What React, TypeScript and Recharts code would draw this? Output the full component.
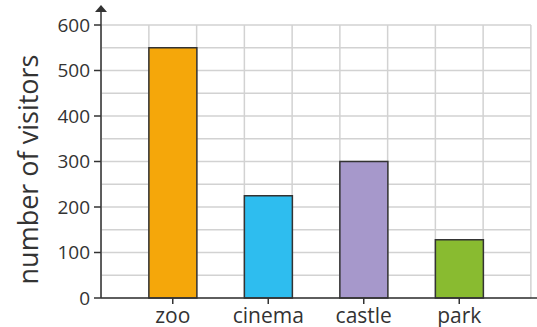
import React from 'react';
import { BarChart, Bar, XAxis, YAxis, CartesianGrid, Cell } from 'recharts';

const categories = ['zoo', 'cinema', 'castle', 'park'];
const visitors = [550, 225, 300, 128];
const barColors = ['#F5A70A', '#2EBDEF', '#A698CB', '#89BB30'];
const yTicks = [0, 100, 200, 300, 400, 500, 600];
const gridValues = [0, 50, 100, 150, 200, 250, 300, 350, 400, 450, 500, 550, 600];
const yMax = 600;

const data = categories.map((name, i) => ({ name, visitors: visitors[i] }));

const PAD_L = 24;
const PAD_R = 30;
const FONT = '"Open Sans", "Noto Sans", sans-serif';
const INK = '#333333';
const GRID = '#D2D2D2';

const verticalGen = ({ offset }: any) => {
  const bw = (offset.width - PAD_L - PAD_R) / categories.length;
  const start = offset.left + PAD_L - bw / 4;
  const pts: number[] = [];
  for (let k = 0; k <= categories.length * 2 + 1; k++) pts.push(start + (k * bw) / 2);
  return pts;
};

const horizontalGen = ({ offset }: any) =>
  gridValues.map((v) => offset.top + offset.height * (1 - v / yMax));

const HLine = (props: any) => {
  const { x1, x2, y1, y2 } = props;
  return <line x1={x1} x2={x2 - (PAD_R - PAD_L)} y1={y1} y2={y2} stroke={GRID} strokeWidth={1.5} />;
};

const YLabel = (props: any) => {
  const vb = props.viewBox || {};
  const ax = vb.x + vb.width;
  const top = vb.y;
  const cy = vb.y + vb.height / 2 + 8;
  return (
    <g>
      <line x1={ax} x2={ax} y1={top} y2={top - 15} stroke={INK} strokeWidth={1.5} />
      <polygon points={`${ax},${top - 20} ${ax - 6},${top - 13} ${ax + 6},${top - 13}`} fill={INK} />
      <text
        x={27}
        y={cy}
        transform={`rotate(-90, 27, ${cy})`}
        textAnchor="middle"
        dominantBaseline="central"
        fontFamily={FONT}
        fontSize={27}
        fill={INK}
      >
        number of visitors
      </text>
    </g>
  );
};

export default function App() {
  return (
    <div style={{ position: 'absolute', left: 0, top: 0, background: '#fff' }}>
      <BarChart
        width={537}
        height={327}
        data={data}
        margin={{ top: 25, right: 0, bottom: 0, left: 0 }}
        barCategoryGap="25%"
      >
        <CartesianGrid
          stroke={GRID}
          strokeWidth={1.5}
          verticalCoordinatesGenerator={verticalGen}
          horizontalCoordinatesGenerator={horizontalGen}
          horizontal={HLine as any}
        />
        <XAxis
          dataKey="name"
          padding={{ left: PAD_L, right: PAD_R }}
          height={29}
          tickSize={6}
          tickMargin={4}
          axisLine={{ stroke: INK, strokeWidth: 1.5 }}
          tickLine={{ stroke: INK, strokeWidth: 1.5 }}
          tick={{ fill: INK, fontSize: 21, fontFamily: FONT }}
        />
        <YAxis
          width={101}
          domain={[0, yMax]}
          ticks={yTicks}
          interval={0}
          tickSize={7}
          tickMargin={4}
          axisLine={{ stroke: INK, strokeWidth: 1.5 }}
          tickLine={{ stroke: INK, strokeWidth: 1.5 }}
          tick={{ fill: INK, fontSize: 19, fontFamily: FONT }}
          label={<YLabel />}
        />
        <Bar dataKey="visitors" stroke={INK} strokeWidth={1.5} isAnimationActive={false}>
          {data.map((d, i) => (
            <Cell key={d.name} fill={barColors[i]} />
          ))}
        </Bar>
      </BarChart>
    </div>
  );
}
